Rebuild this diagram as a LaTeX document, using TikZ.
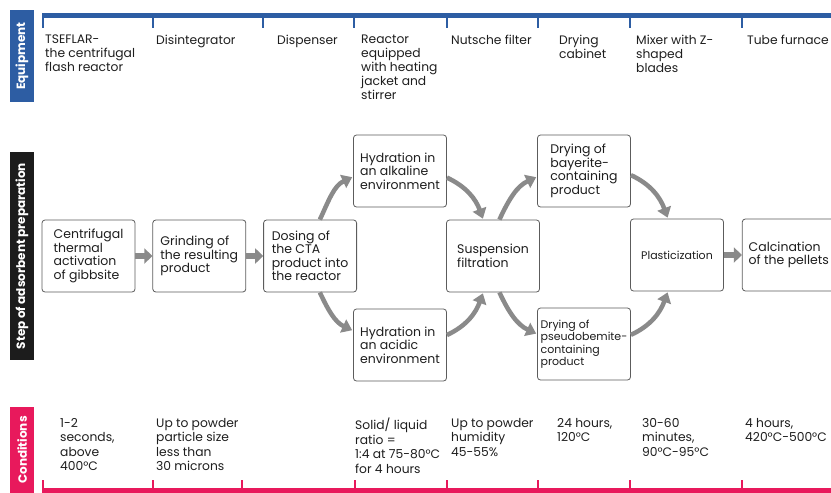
\documentclass[tikz,border=0pt]{standalone}
\usepackage{fontspec}
\setmainfont{Poppins}
\usepackage{tikz}
\usetikzlibrary{arrows.meta,positioning}
\definecolor{EqBlue}{HTML}{2D5DA3}
\definecolor{CondPink}{HTML}{E8195C}
\definecolor{StepDark}{HTML}{1C1C1C}
\definecolor{ArrGray}{HTML}{8A8A8A}
\definecolor{BoxEdge}{HTML}{5C5C5C}
\definecolor{TxtDark}{HTML}{1E1E1E}
\tikzset{
  stepbox/.style={draw=BoxEdge,line width=0.8pt,rounded corners=3pt,align=left,minimum width=93pt,minimum height=72pt,inner sep=1pt,font=\fontsize{12.5}{13.5}\selectfont,text=TxtDark,fill=white},
  sidelabel/.style={rotate=90,minimum height=24pt,inner sep=0pt,text=white,font=\fontsize{12}{13}\selectfont\bfseries},
  infotext/.style={anchor=north west,align=left,inner sep=0pt,font=\fontsize{12.3}{14}\selectfont,text=TxtDark},
  blockarrow/.style={-{Triangle[length=8pt,width=15pt]},line width=6pt,draw=ArrGray},
  bendarrow/.style={-{Triangle[length=10pt,width=14pt]},line width=4.5pt,draw=ArrGray,shorten >=1pt}
}
\begin{document}
\begin{tikzpicture}[x=1pt,y=-1pt,node distance=17pt and 17pt]
\useasboundingbox (0,0) rectangle (831,493);
% side labels
\node[sidelabel,fill=EqBlue,minimum width=92pt] (eqlab) at (22,56) {Equipment};
\node[sidelabel,fill=StepDark,minimum width=208pt] (steplab) at (22,256) {Step of adsorbent preparation};
\node[sidelabel,fill=CondPink,minimum width=86pt] (condlab) at (22,450) {Conditions};
% top and bottom scales
\draw[EqBlue,line width=5pt] (42,15) -- (831,15);
\foreach \x in {43,153,263,354,447,538,630,742}
  \draw[EqBlue,line width=2pt] (\x,15) -- (\x,28);
\draw[CondPink,line width=5pt] (42,490) -- (831,490);
\foreach \x in {43,153,242,355,447,538,630,742}
  \draw[CondPink,line width=2pt] (\x,480) -- (\x,490);
% equipment
\node[infotext] (eqflash) at (45,35) {TSEFLAR-\\the centrifugal\\flash reactor};
\node[infotext] (eqdisint) at (156,35) {Disintegrator};
\node[infotext] (eqdisp) at (277,35) {Dispenser};
\node[infotext] (eqreact) at (361,35) {Reactor\\equipped\\with heating\\jacket and\\stirrer};
\node[infotext] (eqnutsche) at (451,35) {Nutsche filter};
\node[infotext] (eqcabinet) at (559,35) {Drying\\cabinet};
\node[infotext] (eqmixer) at (636,35) {Mixer with Z-\\shaped\\blades};
\node[infotext] (eqfurnace) at (747,35) {Tube furnace};
% process steps
\node[stepbox] (centr) at (88.5,256) {Centrifugal\\thermal\\activation\\of gibbsite};
\node[stepbox,right=of centr] (grind) {Grinding of\\the resulting\\product};
\node[stepbox,right=of grind] (dosing) {Dosing of\\the CTA\\product into\\the reactor};
\node[stepbox] (alkal) at (400,171) {Hydration in\\an alkaline\\environment};
\node[stepbox] (acid) at (400,345) {Hydration in\\an acidic\\environment};
\node[stepbox] (filtr) at (493,256) {Suspension\\filtration};
\node[stepbox] (bayer) at (584,171) {Drying of\\bayerite-\\containing\\product};
\node[stepbox,font=\fontsize{11}{12.5}\selectfont] (pseudo) at (584,344) {Drying of\\pseudobemite-\\containing\\product};
\node[stepbox,font=\fontsize{11}{12}\selectfont,align=center] (plast) at (677,255) {Plasticization};
\node[stepbox,right=18pt of plast] (calc) {Calcination\\of the pellets};
% connectors
\draw[blockarrow] (centr) -- (grind);
\draw[blockarrow] (grind) -- (dosing);
\draw[blockarrow] (plast) -- (calc);
\draw[bendarrow] (dosing.75) to[out=65,in=205] (alkal.187);
\draw[bendarrow] (dosing.285) to[out=-65,in=155] (acid.163);
\draw[bendarrow] (alkal.-8) to[out=-25,in=110] (filtr.105);
\draw[bendarrow] (acid.12) to[out=25,in=-110] (filtr.255);
\draw[bendarrow] (filtr.80) to[out=65,in=205] (bayer.187);
\draw[bendarrow] (filtr.280) to[out=-65,in=155] (pseudo.168);
\draw[bendarrow] (bayer.-5) to[out=-25,in=110] (plast.104);
\draw[bendarrow] (pseudo.11) to[out=25,in=-110] (plast.256);
% conditions
\node[infotext,font=\fontsize{12.3}{14.5}\selectfont] (cdflash) at (60,418) {1-2\\seconds,\\above\\400°C};
\node[infotext,font=\fontsize{12.3}{14.5}\selectfont] (cdgrind) at (156,418) {Up to powder\\particle size\\less than\\30 microns};
\node[infotext,font=\fontsize{12.3}{14.5}\selectfont] (cdreact) at (355,418) {Solid/ liquid\\ratio =\\1:4 at 75-80°C\\for 4 hours};
\node[infotext,font=\fontsize{12.3}{14.5}\selectfont] (cdfilter) at (451,418) {Up to powder\\humidity\\45-55\%};
\node[infotext,font=\fontsize{12.3}{14.5}\selectfont] (cddry) at (557,418) {24 hours,\\120°C};
\node[infotext,font=\fontsize{12.3}{14.5}\selectfont] (cdmix) at (642,418) {30-60\\minutes,\\90°C-95°C};
\node[infotext,font=\fontsize{12.3}{14.5}\selectfont] (cdfurn) at (745,418) {4 hours,\\420°C-500°C};
\end{tikzpicture}
\end{document}
